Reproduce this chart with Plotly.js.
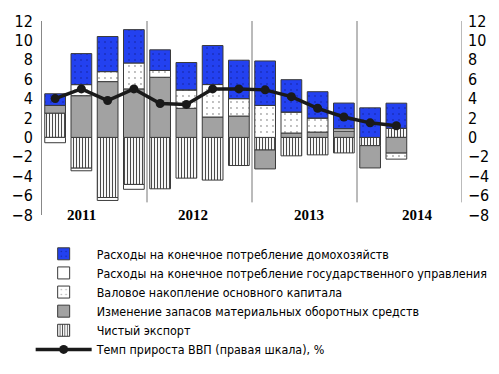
<!DOCTYPE html>
<html><head><meta charset="utf-8">
<script src="https://cdn.plot.ly/plotly-3.0.1.min.js"></script>
<style>html,body{margin:0;padding:0;background:#fff}</style>
</head><body><div id="chart" style="width:499px;height:374px"></div>
<script>
// 16 quarter slots (2011 Q1 .. 2014 Q4), data for first 14
const quarters = ['2011 Q1','2011 Q2','2011 Q3','2011 Q4','2012 Q1','2012 Q2','2012 Q3','2012 Q4',
                  '2013 Q1','2013 Q2','2013 Q3','2013 Q4','2014 Q1','2014 Q2','2014 Q3','2014 Q4'];
const years = ['2011','2012','2013','2014'];
const households  = [1.2, 3.2, 3.62, 3.44, 2.13, 2.82, 4.02, 3.96, 4.58, 3.33, 2.71, 2.64, 3.05, 2.58];
const government  = [-0.55, -0.27, -0.3, -0.5, 0, 0, 0, 0, 0, 0, 0, 0, 0, 0];
const fixedCapital= [0, 1.14, 1.03, 2.67, 0.7, 1.9, 3.35, 1.8, 3.3, 2.17, 1.45, 0.25, 0, -0.62];
const inventories = [0.8, 4.3, 5.75, 5.0, 6.2, 3.0, 2.1, 2.2, -1.95, 0.45, 0.55, 0.65, -2.3, -1.62];
const netExport   = [2.5, -3.17, -6.2, -4.85, -5.3, -4.2, -4.4, -2.9, -1.3, -1.9, -1.8, -1.6, -0.85, 0.95];
const gdpGrowth   = [4.0, 5.0, 3.8, 5.0, 3.5, 3.4, 5.0, 5.0, 4.9, 4.2, 3.0, 2.1, 1.5, 1.2];
const seriesNames = [
  'Расходы на конечное потребление домохозяйств',
  'Расходы на конечное потребление государственного управления',
  'Валовое накопление основного капитала',
  'Изменение запасов материальных оборотных средств',
  'Чистый экспорт',
  'Темп прироста ВВП (правая шкала), %'
];
const yTicks = [-8,-6,-4,-2,0,2,4,6,8,10,12];

const xq = quarters.slice(0, households.length);
const narrow = '"DejaVu Sans Condensed", "Liberation Sans Narrow", sans-serif';
const outline = {color:'#3a3a3a', width:1};

const traces = [
  {type:'bar', name:seriesNames[4], x:xq, y:netExport, legendrank:5,
   marker:{color:'#ffffff', line:outline, pattern:{shape:'|', size:3, solidity:0.36, fgcolor:'#4a4a4a', bgcolor:'#fff'}}},
  {type:'bar', name:seriesNames[3], x:xq, y:inventories, legendrank:4,
   marker:{color:'#a2a2a2', line:outline}},
  {type:'bar', name:seriesNames[2], x:xq, y:fixedCapital, legendrank:3,
   marker:{color:'#ffffff', line:outline, pattern:{shape:'.', size:6, solidity:0.08, fgcolor:'#aaa', bgcolor:'#fff'}}},
  {type:'bar', name:seriesNames[1], x:xq, y:government, legendrank:2,
   marker:{color:'#ffffff', line:outline}},
  {type:'bar', name:seriesNames[0], x:xq, y:households, legendrank:1,
   marker:{color:'#2341f0', line:outline, pattern:{shape:'.', size:6, solidity:0.06, fgcolor:'#14239a', bgcolor:'#2341f0'}}},
  {type:'scatter', mode:'lines+markers', name:seriesNames[5], x:xq, y:gdpGrowth, yaxis:'y2', legendrank:6,
   line:{color:'#1a1a1a', width:3.5}, marker:{color:'#1a1a1a', size:9}}
];

const rng = [-8, 12];
const shapes = [3.5, 7.5, 11.5, 15.5].map(v => ({type:'line', xref:'x', yref:'y', x0:v, x1:v, y0:-6.7, y1:12,
  line:{color:'#777', width:1}, layer:'below'}));

const yearPos = [1.0, 5.25, 9.67, 13.8];
const annotations = years.map((t,i) => ({xref:'x', yref:'y', x:yearPos[i], y:-8, yanchor:'middle', xanchor:'center',
  text:'<b>'+t+'</b>', showarrow:false, font:{family:'"Liberation Serif", "Times New Roman", serif', size:15, color:'#000'}}));

const layout = {
  width:499, height:374,
  margin:{l:42, r:37, t:21, b:159, autoexpand:false},
  paper_bgcolor:'#fff', plot_bgcolor:'rgba(0,0,0,0)',
  barmode:'relative', bargap:0.21,
  showlegend:true,
  legend:{x:-0.027, y:-0.125, xanchor:'left', yanchor:'top', orientation:'v', itemwidth:56, traceorder:'normal',
    font:{family:narrow, size:12.4, color:'#000'}, bgcolor:'rgba(0,0,0,0)', tracegroupgap:0},
  xaxis:{type:'category', categoryorder:'array', categoryarray:quarters, range:[-0.5, 15.5],
    showticklabels:false, ticks:'', showgrid:false, zeroline:false, showline:false, fixedrange:true},
  yaxis:{range:rng, tickvals:yTicks, showgrid:false, zeroline:false, showline:true, linecolor:'#888', linewidth:1,
    ticks:'', ticklabelstandoff:5, tickfont:{family:narrow, size:16, color:'#000'}},
  yaxis2:{range:rng, overlaying:'y', side:'right', tickvals:yTicks, showgrid:false, zeroline:false, showline:false,
    ticks:'', ticklabelstandoff:5, tickfont:{family:narrow, size:16, color:'#000'}},
  yaxis3:{range:rng, overlaying:'y', tickvals:[2,4,6,8,-4], showgrid:true, gridcolor:'#333', gridwidth:1,
    showticklabels:false, zeroline:false, showline:false},
  yaxis4:{range:rng, overlaying:'y', tickvals:[12,10,0,-2,-6], showgrid:true, gridcolor:'#9a9a9a', gridwidth:1,
    showticklabels:false, zeroline:false, showline:false},
  shapes:shapes,
  annotations:annotations
};

Plotly.newPlot('chart', traces, layout, {displayModeBar:false, staticPlot:true});
</script></body></html>
